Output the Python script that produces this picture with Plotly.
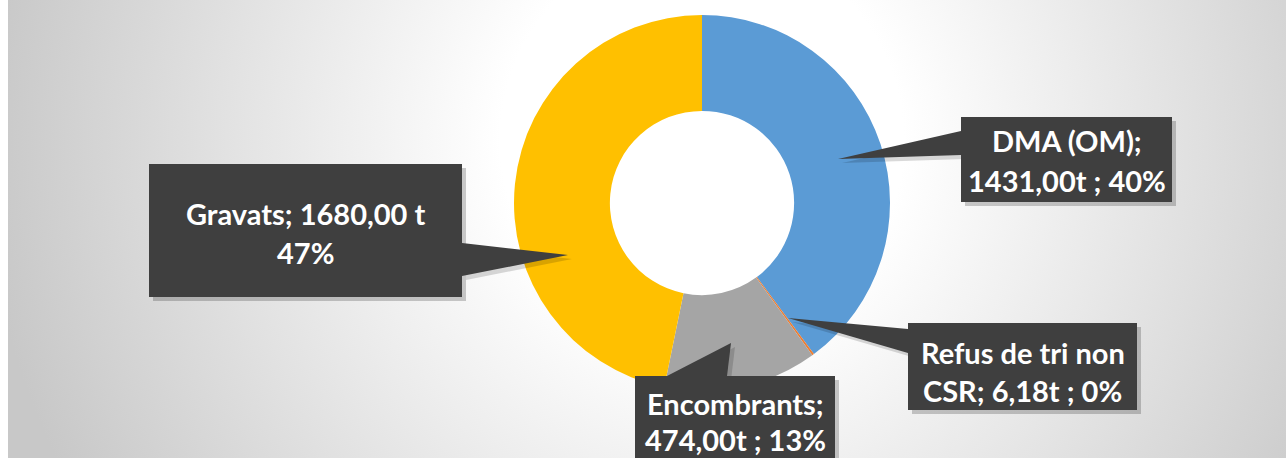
import base64
import plotly.graph_objects as go

# Tonnages collectés
categories = ["DMA (OM)", "Refus de tri non CSR", "Encombrants", "Gravats"]
tonnages = [1431.00, 6.18, 474.00, 1680.00]
slice_colors = ["#5B9BD5", "#ED7D31", "#A5A5A5", "#FFC000"]
callout_text = [
    "DMA (OM);<br>1431,00t ; 40%",
    "Refus de tri non<br>CSR; 6,18t ; 0%",
    "Encombrants;<br>474,00t ; 13%",
    "Gravats; 1680,00 t<br>47%",
]

W, H = 1286, 458

# callout geometry in pixels: box (x0, y0, x1, y1) and pointer triangle
callouts = [
    dict(box=(961, 117, 1172, 202), ptr=[(961, 131), (838, 159), (961, 155)], ty=(140, 180)),
    dict(box=(908, 323, 1137, 410), ptr=[(908, 329), (788, 318), (908, 353)], ty=(352, 390)),
    dict(box=(635, 376, 835, 470), ptr=[(667, 376), (731, 343), (727, 376)], ty=(403, 439)),
    dict(box=(149, 164, 462, 297), ptr=[(462, 243), (568, 255), (462, 276)], ty=(213, 252)),
]

# radial background (Excel style)
svg = f"""<svg xmlns='http://www.w3.org/2000/svg' width='{W - 8}' height='{H}'>
<defs><radialGradient id='g' gradientUnits='userSpaceOnUse' cx='694' cy='140' r='720'>
<stop offset='0' stop-color='#ffffff'/><stop offset='0.28' stop-color='#ffffff'/>
<stop offset='1' stop-color='#c8c8c8'/></radialGradient></defs>
<rect width='100%' height='100%' fill='url(#g)'/></svg>"""
bg_src = "data:image/svg+xml;base64," + base64.b64encode(svg.encode()).decode()

cx, cy, r = 702, 203, 188

fig = go.Figure()
fig.add_trace(go.Pie(
    labels=categories,
    values=tonnages,
    marker=dict(colors=slice_colors, line=dict(width=0)),
    hole=0.49,
    sort=False,
    direction="clockwise",
    rotation=0,
    textinfo="none",
    hoverinfo="skip",
    showlegend=False,
    domain=dict(x=[(cx - r) / W, (cx + r) / W],
                y=[1 - (cy + r) / H, 1 - (cy - r) / H]),
))

shapes = []
box_color = "#3F3F3F"
for c in callouts:
    x0, y0, x1, y1 = c["box"]
    p = c["ptr"]
    # shadow
    dx, dy = 4, 4
    shapes.append(dict(type="rect", xref="x", yref="y", x0=x0 + dx, y0=y0 + dy,
                       x1=x1 + dx, y1=y1 + dy, fillcolor="rgba(0,0,0,0.2)",
                       line=dict(width=0), layer="above"))
    path = "M {} {} L {} {} L {} {} Z".format(p[0][0] + dx, p[0][1] + dy,
                                            p[1][0] + dx, p[1][1] + dy,
                                            p[2][0] + dx, p[2][1] + dy)
    shapes.append(dict(type="path", xref="x", yref="y", path=path,
                       fillcolor="rgba(0,0,0,0.15)", line=dict(width=0), layer="above"))
for c in callouts:
    x0, y0, x1, y1 = c["box"]
    p = c["ptr"]
    shapes.append(dict(type="rect", xref="x", yref="y", x0=x0, y0=y0, x1=x1, y1=y1,
                       fillcolor=box_color, line=dict(width=0), layer="above"))
    path = "M {} {} L {} {} L {} {} Z".format(*p[0], *p[1], *p[2])
    shapes.append(dict(type="path", xref="x", yref="y", path=path,
                       fillcolor=box_color, line=dict(width=0), layer="above"))

annotations = []
for c, txt in zip(callouts, callout_text):
    x0, y0, x1, y1 = c["box"]
    lines = txt.split("<br>")
    for ln, ty in zip(lines, c["ty"]):
        annotations.append(dict(x=(x0 + x1) / 2, y=ty, xref="x", yref="y", text=f"<b>{ln}</b>",
                                showarrow=False, xanchor="center", yanchor="middle",
                                font=dict(family="Lato", size=29, color="white")))

fig.update_layout(
    width=W, height=H,
    margin=dict(l=0, r=0, t=0, b=0),
    paper_bgcolor="white",
    plot_bgcolor="rgba(0,0,0,0)",
    xaxis=dict(range=[0, W], visible=False, fixedrange=True),
    yaxis=dict(range=[H, 0], visible=False, fixedrange=True),
    images=[dict(source=bg_src, xref="x", yref="y", x=8, y=0, sizex=W - 8, sizey=H,
                 sizing="stretch", layer="below", xanchor="left", yanchor="top")],
    shapes=shapes,
    annotations=annotations,
)

fig.write_html("out.html", config={"displayModeBar": False},
               post_script="document.body.style.margin='0';")
